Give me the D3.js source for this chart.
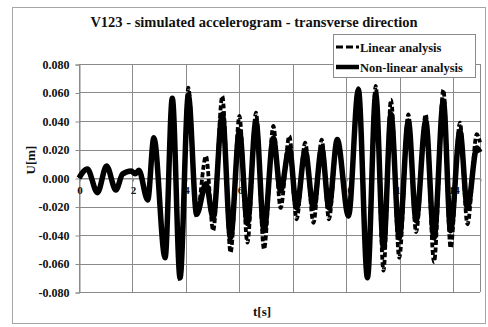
<!DOCTYPE html>
<html><head><meta charset="utf-8">
<script src="https://cdn.jsdelivr.net/npm/d3@7"></script>
<style>
html,body{margin:0;padding:0;background:#fff;}
svg{display:block;}
text{font-family:"Liberation Serif","Times New Roman",serif;font-weight:bold;fill:#111;}
</style></head>
<body>
<script>
// ---- data ----
const titleText = "V123 - simulated accelerogram - transverse direction";
const xLabel = "t[s]";
const yLabel = "U[m]";
const seriesNames = ["Linear analysis", "Non-linear analysis"];
const xTicks = [0, 2, 4, 6, 8, 10, 12, 14];
const yTicks = [-0.08, -0.06, -0.04, -0.02, 0, 0.02, 0.04, 0.06, 0.08];

const time = [0, 0.31, 0.69, 1.03, 1.38, 1.63, 1.95, 2.1, 2.24, 2.57, 2.8, 3.22, 3.49, 3.78, 4.09, 4.40, 4.75, 5.02, 5.36, 5.67, 6.0, 6.30, 6.62, 6.92, 7.27, 7.54, 7.87, 8.14, 8.46, 8.77, 9.08, 9.35, 9.66, 10.08, 10.45, 10.79, 11.1, 11.39, 11.67, 11.98, 12.32, 12.61, 12.97, 13.28, 13.63, 13.9, 14.25, 14.53, 14.88, 15];
const linear = [0, 0.0063, -0.0103, 0.0084, -0.0084, 0.0028, 0.005, 0.003, 0.0054, -0.0154, 0.0283, -0.056, 0.056, -0.072, 0.0634, -0.027, 0.0154, -0.037, 0.0575, -0.0524, 0.0435, -0.0454, 0.0458, -0.050, 0.0365, -0.021, 0.0295, -0.029, 0.0248, -0.0314, 0.027, -0.029, 0.027, -0.027, 0.063, -0.065, 0.0646, -0.065, 0.055, -0.056, 0.0447, -0.038, 0.0447, -0.059, 0.062, -0.049, 0.0388, -0.0325, 0.0307, 0.025];
const nonlinear = [0, 0.0063, -0.0103, 0.0084, -0.0084, 0.0028, 0.005, 0.003, 0.0054, -0.0154, 0.0283, -0.056, 0.0559, -0.070, 0.058, -0.0255, -0.004, -0.028, 0.0447, -0.042, 0.033, -0.032, 0.040, -0.037, 0.028, -0.009, 0.021, -0.021, 0.019, -0.021, 0.021, -0.021, 0.027, -0.0267, 0.062, -0.070, 0.0587, -0.049, 0.0447, -0.042, 0.040, -0.030, 0.040, -0.042, 0.054, -0.037, 0.033, -0.021, 0.021, 0.018];

// ---- layout ----
const W = 488, H = 327;
const plot = {l: 79, r: 480, t: 64, b: 292};
const grid = "#8a8a8a";

const svg = d3.select("body").append("svg").attr("width", W).attr("height", H);

svg.append("rect").attr("x", 12.5).attr("y", 7.5).attr("width", 473).attr("height", 316)
  .attr("fill", "#fff").attr("stroke", "#a6a6a6").attr("stroke-width", 1);

const x = d3.scaleLinear().domain([0, 15]).range([plot.l, plot.r]);
const y = d3.scaleLinear().domain([-0.08, 0.08]).range([plot.b, plot.t]);

// gridlines
const g = svg.append("g");
g.selectAll("line.h").data(yTicks).join("line")
  .attr("x1", plot.l).attr("x2", plot.r)
  .attr("y1", d => Math.round(y(d)) + 0.5).attr("y2", d => Math.round(y(d)) + 0.5)
  .attr("stroke", grid).attr("stroke-width", 1);
g.selectAll("line.v").data(xTicks.concat([15])).join("line")
  .attr("y1", plot.t).attr("y2", plot.b)
  .attr("x1", d => Math.round(x(d)) + 0.5).attr("x2", d => Math.round(x(d)) + 0.5)
  .attr("stroke", grid).attr("stroke-width", 1);

// y axis
const yAxis = d3.axisLeft(y).tickValues(yTicks).tickSize(4).tickPadding(6)
  .tickFormat(d => d3.format(".3f")(d).replace("−", "-"));
const ya = svg.append("g").attr("transform", `translate(${plot.l + 0.5},0.5)`).call(yAxis);
ya.select(".domain").attr("stroke", grid);
ya.selectAll(".tick line").attr("stroke", grid);
ya.selectAll(".tick text").style("font-size", "12px").style("font-family", "Liberation Serif").style("font-weight", "bold").attr("fill", "#222");

// x axis labels (along y=0), drawn below the curves
const xAxis = d3.axisBottom(x).tickValues(xTicks).tickSize(3).tickPadding(5).tickFormat(d3.format("d"));
const xa = svg.append("g").attr("transform", `translate(0.5,${Math.round(y(0)) + 0.5})`).call(xAxis);
xa.select(".domain").attr("stroke", grid);
xa.selectAll(".tick line").attr("stroke", grid);
xa.selectAll(".tick text").style("font-size", "11px").style("font-family", "Liberation Serif").style("font-weight", "bold").attr("fill", "#222");

// series
const lin = time.map((t, i) => [t, linear[i]]);
const non = time.map((t, i) => [t, nonlinear[i]]);
const line = d3.line().x(d => x(d[0])).y(d => y(d[1])).curve(d3.curveMonotoneX);

svg.append("path").attr("d", line(lin)).attr("fill", "none").attr("stroke", "#000")
  .attr("stroke-width", 3.8).attr("stroke-dasharray", "5,2.5");
svg.append("path").attr("d", line(non)).attr("fill", "none").attr("stroke", "#000")
  .attr("stroke-width", 5.5).attr("stroke-linejoin", "round");

// title
svg.append("text").attr("x", 254).attr("y", 27).attr("text-anchor", "middle")
  .style("font-size", "14.5px").text(titleText);

// axis titles
svg.append("text").attr("x", 262).attr("y", 316).attr("text-anchor", "middle")
  .style("font-size", "13px").text(xLabel);
svg.append("text").attr("transform", "translate(35,160) rotate(-90)").attr("text-anchor", "middle")
  .style("font-size", "13px").text(yLabel);

// legend
const lg = svg.append("g");
lg.append("rect").attr("x", 333.5).attr("y", 34.5).attr("width", 142).attr("height", 43)
  .attr("fill", "#fff").attr("stroke", "#8a8a8a");
lg.append("line").attr("x1", 336).attr("x2", 359).attr("y1", 47).attr("y2", 47)
  .attr("stroke", "#000").attr("stroke-width", 3).attr("stroke-dasharray", "7,3");
lg.append("line").attr("x1", 336).attr("x2", 359).attr("y1", 67).attr("y2", 67)
  .attr("stroke", "#000").attr("stroke-width", 4.5);
lg.append("text").attr("x", 360).attr("y", 51.5).style("font-size", "12.5px").text(seriesNames[0]);
lg.append("text").attr("x", 360).attr("y", 71.5).style("font-size", "12.5px").text(seriesNames[1]);
</script>
</body></html>
